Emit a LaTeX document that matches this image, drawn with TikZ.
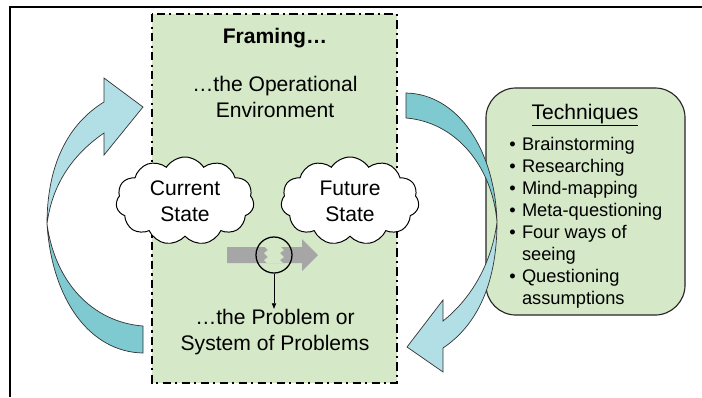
\documentclass[tikz,border=0pt]{standalone}
\usepackage{fontspec}
\setmainfont{Liberation Sans}
\usetikzlibrary{shapes.symbols,arrows.meta}

\definecolor{framegreen}{RGB}{213,232,199}
\definecolor{bandlight}{RGB}{178,223,229}
\definecolor{banddark}{RGB}{127,201,209}
\definecolor{shiftgray}{RGB}{166,166,166}

\tikzset{
  body/.style={font=\fontsize{15}{18.5}\selectfont, align=center, inner sep=0pt},
  state/.style={body, cloud, cloud puffs=11, cloud puff arc=115, cloud ignores aspect,
    draw, line width=0.7pt, fill=white, minimum width=3.45cm, minimum height=2.2cm},
  band/.style={draw=black!80, line width=0.5pt},
}

\begin{document}
\begin{tikzpicture}[x=0.025cm, y=-0.025cm]
	\useasboundingbox (0,0) rectangle (702,397);
	% open frame
	\draw[line width=1pt] (10,397) -- (10,7) -- (702,7);

	% framing panel
	\draw[fill=framegreen, line width=1.6pt, dash pattern=on 6pt off 3pt on 1.5pt off 3pt] (152,14) rectangle (397,383);
	\node[body, font=\bfseries\fontsize{15}{18.5}\selectfont] (framing) at (275,38) {Framing…};
	\node[body] (openv) at (275,97) {…the Operational\\Environment};
	\node[body] (problem) at (275,332) {…the Problem or\\System of Problems};

	\node[state] (current) at (185,201) {Current\\State};
	\node[state] (future) at (350,201) {Future\\State};

	% broken shift between the two states
	\fill[shiftgray] (227,247) -- (302,247) -- (302,239) -- (318,255) -- (302,271) -- (302,263) -- (227,263) -- cycle;
	\fill[framegreen] (265,247) -- (268,250) -- (264,253) -- (268,257) -- (264,260) -- (267,263) -- (283,263) -- (280,260) -- (284,257) -- (280,253) -- (284,250) -- (281,247) -- cycle;
	\node[circle, draw, line width=0.9pt, minimum size=0.9cm, inner sep=0pt] (gap) at (274,255) {};
	\draw[-{Triangle[length=4pt,width=3pt]}, line width=0.5pt] (gap.south) -- (gap.south |- problem.north);

	% techniques
	\node[draw=black!85, line width=0.8pt, fill=framegreen, rounded corners=0.75cm, minimum width=4.975cm, minimum height=5.675cm] (techbox) at (585.5,201.5) {};
	\node[font=\fontsize{15}{18}\selectfont] (techtitle) at (585,115) {\underline{Techniques}};
	\node[anchor=west, inner sep=0pt, font=\fontsize{13}{15.6}\selectfont] (techlist) at (509,223) {%
		\begin{tabular}{@{}l@{\hspace{4.5pt}}l@{}}
		• & Brainstorming\\
		• & Researching\\
		• & Mind-mapping\\
		• & Meta-questioning\\
		• & Four ways of\\
		  & seeing\\
		• & Questioning\\
		  & assumptions
		\end{tabular}};

	% left loop arrow
	\filldraw[band, fill=banddark] (47,224) .. controls (52,300) and (90,352) .. (143,353) -- (143,326) .. controls (92,322) and (55,282) .. (47,224) -- cycle;
	\filldraw[band, fill=bandlight] (47,224) .. controls (47,165) and (68,124) .. (104,102) -- (104,78) -- (143,107) -- (104,155) -- (104,133) .. controls (72,155) and (52,185) .. (47,224) -- cycle;

	% right loop arrow
	\filldraw[band, fill=banddark] (497,222) .. controls (495,150) and (458,94) .. (406,93) -- (406,118) .. controls (455,122) and (492,165) .. (497,222) -- cycle;
	\filldraw[band, fill=bandlight] (497,222) .. controls (497,285) and (476,326) .. (443,348) -- (443,372) -- (407,347) -- (443,300) -- (443,321) .. controls (472,298) and (492,262) .. (497,222) -- cycle;
\end{tikzpicture}
\end{document}
